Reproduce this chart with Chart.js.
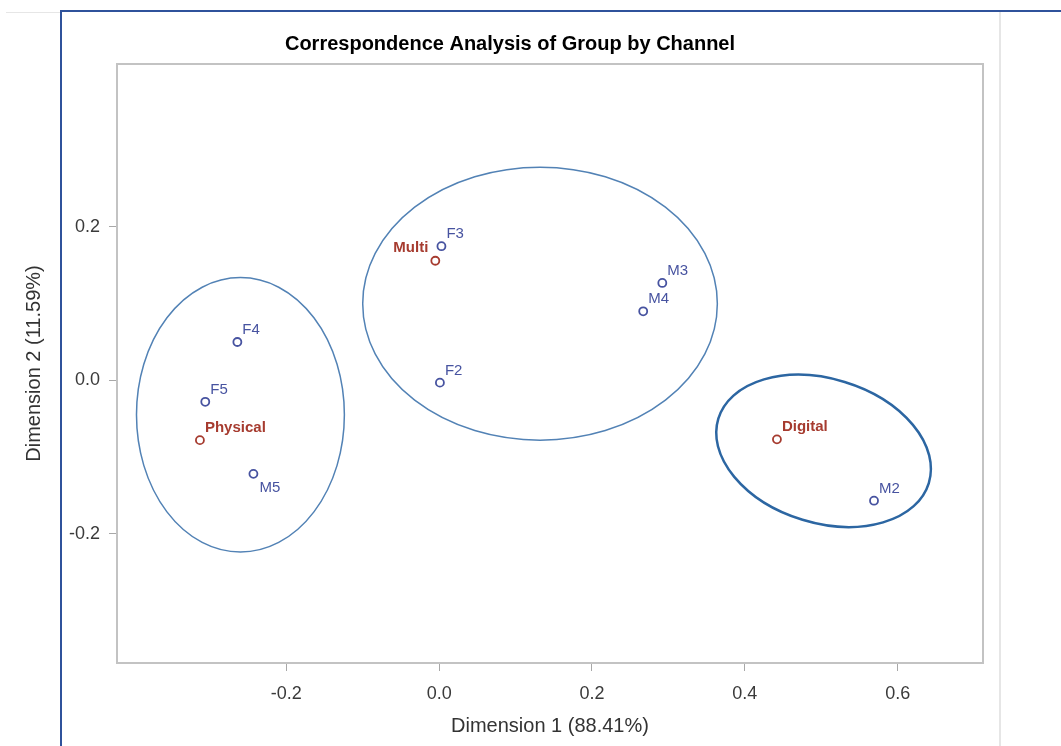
<!DOCTYPE html>
<html>
<head>
<meta charset="utf-8">
<title>Correspondence Analysis of Group by Channel</title>
<script src="https://cdn.jsdelivr.net/npm/chart.js@4.4.1/dist/chart.umd.min.js"></script>
<style>
  html, body { margin: 0; padding: 0; background: #fff; }
  body { width: 1061px; height: 746px; position: relative; overflow: hidden; }
  #wrap { position: absolute; left: 0; top: 0; width: 1020px; height: 746px; }
  .rule { position: absolute; }
  #topGray { left: 6px; top: 12px; width: 55px; height: 1px; background: #e6e6e6; }
  #topBlue { left: 60px; top: 10px; width: 1001px; height: 2px; background: #2f529b; }
  #leftBlue { left: 60px; top: 10px; width: 2px; height: 736px; background: #2f529b; }
  #rightGray { left: 999px; top: 12px; width: 2px; height: 734px; background: #e6e6e6; }
</style>
</head>
<body>
<div id="wrap"><canvas id="ca-chart"></canvas></div>
<div class="rule" id="topGray"></div>
<div class="rule" id="topBlue"></div>
<div class="rule" id="leftBlue"></div>
<div class="rule" id="rightGray"></div>
<script>
// row points (Group)
const rowLabels = ["F2", "F3", "F4", "F5", "M2", "M3", "M4", "M5"];
const rowDim1 = [0.001, 0.003, -0.264, -0.306, 0.569, 0.292, 0.267, -0.243];
const rowDim2 = [-0.003, 0.175, 0.050, -0.028, -0.157, 0.127, 0.090, -0.122];

// column points (Channel)
const colLabels = ["Digital", "Multi", "Physical"];
const colDim1 = [0.442, -0.005, -0.313];
const colDim2 = [-0.077, 0.156, -0.078];

const xTicks = [-0.2, 0.0, 0.2, 0.4, 0.6];
const yTicks = [-0.2, 0.0, 0.2];

// cluster ellipses: centre, semi-axes (data units), tilt in degrees
const ellipseCx = [-0.260, 0.132, 0.503];
const ellipseCy = [-0.045, 0.100, -0.092];
const ellipseRx = [0.136, 0.232, 0.144];
const ellipseRy = [0.179, 0.178, 0.094];
const ellipseTilt = [0, 0, -17];

const ellipseColor = ["#5282b5", "#5282b5", "#2c66a2"];
const ellipseWidth = [1.5, 1.5, 2.5];

// where a point label goes, default is up and to the right
const labelPlace = { M5: "below", Multi: "left" };

const chartTitle = "Correspondence Analysis of Group by Channel";

const FONT = "'Liberation Sans', Arial, sans-serif";
const BLUE = "#4753a0";
const RED = "#a63b2f";

const decor = {
  id: "decor",
  beforeDatasetsDraw(chart) {
    const { ctx, chartArea: a, scales: { x, y } } = chart;
    ctx.save();
    ctx.beginPath();
    ctx.rect(a.left, a.top, a.width, a.height);
    ctx.clip();
    ellipseCx.forEach((cx, i) => {
      const px = x.getPixelForValue(cx);
      const py = y.getPixelForValue(ellipseCy[i]);
      const rx = Math.abs(x.getPixelForValue(cx + ellipseRx[i]) - px);
      const ry = Math.abs(y.getPixelForValue(ellipseCy[i] + ellipseRy[i]) - py);
      ctx.beginPath();
      ctx.ellipse(px, py, rx, ry, -ellipseTilt[i] * Math.PI / 180, 0, Math.PI * 2);
      ctx.strokeStyle = ellipseColor[i];
      ctx.lineWidth = ellipseWidth[i];
      ctx.stroke();
    });
    ctx.restore();

    ctx.save();
    ctx.strokeStyle = "#c3c3c3";
    ctx.lineWidth = 2;
    ctx.strokeRect(a.left, a.top, a.width, a.height);
    ctx.restore();
  },
  afterDatasetsDraw(chart) {
    const { ctx } = chart;
    ctx.save();
    ctx.textBaseline = "alphabetic";
    chart.data.datasets.forEach((ds, i) => {
      const meta = chart.getDatasetMeta(i);
      ctx.fillStyle = ds.borderColor;
      ctx.font = (i === 1 ? "bold " : "") + "15px " + FONT;
      meta.data.forEach((pt, j) => {
        const name = ds.names[j];
        const place = labelPlace[name];
        if (place === "below") {
          ctx.textAlign = "left";
          ctx.fillText(name, pt.x + 6, pt.y + 18);
        } else if (place === "left") {
          ctx.textAlign = "right";
          ctx.fillText(name, pt.x - 7, pt.y - 9);
        } else {
          ctx.textAlign = "left";
          ctx.fillText(name, pt.x + 5, pt.y - 8);
        }
      });
    });

    // title, centred on the graph frame rather than the plot box
    ctx.fillStyle = "#000";
    ctx.font = "bold 20px " + FONT;
    ctx.textAlign = "center";
    ctx.fillText(chartTitle, 510, 50);
    ctx.restore();
  }
};

const axisText = { family: FONT, size: 18 };
const titleText = { family: FONT, size: 20 };

new Chart(document.getElementById("ca-chart"), {
  type: "scatter",
  data: {
    datasets: [
      {
        label: "Group",
        names: rowLabels,
        data: rowDim1.map((v, i) => ({ x: v, y: rowDim2[i] })),
        borderColor: BLUE,
        backgroundColor: "#ffffff",
        pointRadius: 4,
        pointBorderWidth: 1.8,
      },
      {
        label: "Channel",
        names: colLabels,
        data: colDim1.map((v, i) => ({ x: v, y: colDim2[i] })),
        borderColor: RED,
        backgroundColor: "#ffffff",
        pointRadius: 4,
        pointBorderWidth: 1.8,
      },
    ],
  },
  options: {
    responsive: true,
    maintainAspectRatio: false,
    animation: false,
    events: [],
    layout: { padding: { left: 19, right: 37, top: 64, bottom: 8 } },
    plugins: {
      legend: { display: false },
      tooltip: { enabled: false },
      title: { display: false },
    },
    scales: {
      x: {
        type: "linear",
        min: -0.4215,
        max: 0.7116,
        afterBuildTicks: (axis) => { axis.ticks = xTicks.map((v) => ({ value: v })); },
        afterFit: (axis) => { axis.height = 75; },
        border: { display: false },
        grid: { drawOnChartArea: false, drawTicks: true, tickLength: 8, color: "#a8a8a8" },
        ticks: { color: "#3a3a3a", font: axisText, padding: 12, callback: (v) => v.toFixed(1) },
        title: { display: true, text: "Dimension 1 (88.41%)", color: "#333", font: titleText, padding: { top: 4, bottom: 0 } },
      },
      y: {
        type: "linear",
        min: -0.3687,
        max: 0.4126,
        afterBuildTicks: (axis) => { axis.ticks = yTicks.map((v) => ({ value: v })); },
        afterFit: (axis) => { axis.width = 98; },
        border: { display: false },
        grid: { drawOnChartArea: false, drawTicks: true, tickLength: 8, color: "#a8a8a8" },
        ticks: { color: "#3a3a3a", font: axisText, padding: 9, callback: (v) => v.toFixed(1) },
        title: { display: true, text: "Dimension 2 (11.59%)", color: "#333", font: titleText, padding: { top: 3, bottom: 4 } },
      },
    },
  },
  plugins: [decor],
});
</script>
</body>
</html>
